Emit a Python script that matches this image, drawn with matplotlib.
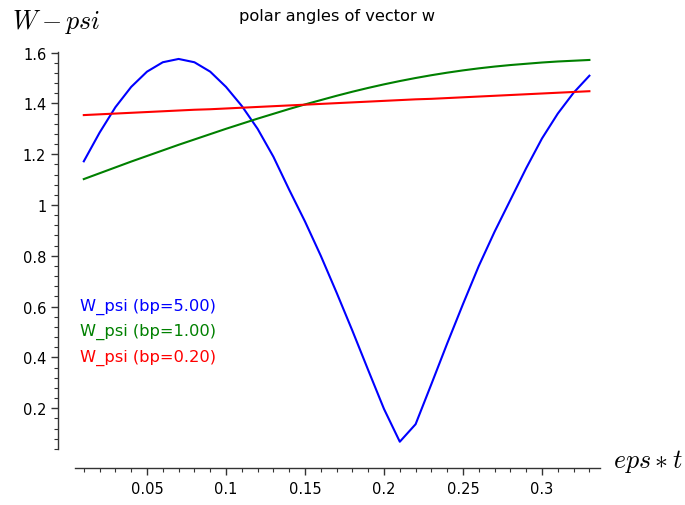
import numpy as np
import matplotlib
matplotlib.use("Agg")
import matplotlib.pyplot as plt
from matplotlib.ticker import FixedLocator, FixedFormatter

plt.rcParams['mathtext.fontset'] = 'cm'

x = [round(0.01 * i, 2) for i in range(1, 34)]

w_psi_bp5 = [1.172, 1.285, 1.385, 1.465, 1.525, 1.562, 1.575, 1.562, 1.525, 1.465,
             1.390, 1.300, 1.190, 1.060, 0.935, 0.800, 0.655, 0.505, 0.350, 0.197,
             0.068, 0.137, 0.295, 0.455, 0.610, 0.760, 0.895, 1.020, 1.145, 1.262,
             1.360, 1.442, 1.509]
w_psi_bp1 = [1.102, 1.125, 1.148, 1.171, 1.193, 1.215, 1.237, 1.258, 1.279, 1.300,
             1.320, 1.340, 1.359, 1.378, 1.396, 1.413, 1.430, 1.446, 1.461, 1.475,
             1.488, 1.500, 1.511, 1.521, 1.530, 1.538, 1.545, 1.551, 1.556, 1.561,
             1.565, 1.568, 1.571]
w_psi_bp02 = [1.354, 1.357, 1.360, 1.363, 1.366, 1.369, 1.372, 1.375, 1.377, 1.380,
              1.383, 1.386, 1.389, 1.392, 1.395, 1.398, 1.401, 1.404, 1.407, 1.410,
              1.413, 1.416, 1.418, 1.421, 1.424, 1.427, 1.430, 1.433, 1.436, 1.439,
              1.442, 1.445, 1.448]

labels = ['W_psi (bp=5.00)', 'W_psi (bp=1.00)', 'W_psi (bp=0.20)']
colors = ['#0000ff', '#008000', '#ff0000']

xticks = [0.05, 0.1, 0.15, 0.2, 0.25, 0.3]
xticklabels = ['0.05', '0.1', '0.15', '0.2', '0.25', '0.3']
yticks = [0.2, 0.4, 0.6, 0.8, 1.0, 1.2, 1.4, 1.6]
yticklabels = ['0.2', '0.4', '0.6', '0.8', '1', '1.2', '1.4', '1.6']

W, H = 685, 506
fig = plt.figure(figsize=(W / 100, H / 100), dpi=100)

# pixel mapping: x=0 -> px 68, 1580 px/unit ; y=0 -> py 460, 254 px/unit
x0, xs = 68.0, 1580.0
y0, ys = 460.0, 254.0
xlim = (-0.012, 0.345)
ylim = (-0.045, 1.62)
left = (x0 + xlim[0] * xs) / W
right = (x0 + xlim[1] * xs) / W
bottom = (H - (y0 - ylim[0] * ys)) / H
top = (H - (y0 - ylim[1] * ys)) / H
ax = fig.add_axes([left, bottom, right - left, top - bottom])
ax.set_xlim(*xlim)
ax.set_ylim(*ylim)

for ser, lab, c in zip([w_psi_bp5, w_psi_bp1, w_psi_bp02], labels, colors):
    ax.plot(x, ser, color=c, lw=1.5, label=lab)

for s in ['top', 'right']:
    ax.spines[s].set_visible(False)
ax.spines['bottom'].set_position(('data', -0.035))
ax.spines['bottom'].set_bounds(0.0045, 0.3365)
ax.spines['left'].set_position(('data', -0.0063))
ax.spines['left'].set_bounds(0.04, 1.603)
for s in ['bottom', 'left']:
    ax.spines[s].set_linewidth(1.0)
    ax.spines[s].set_color('#333333')

ax.xaxis.set_major_locator(FixedLocator(xticks))
ax.xaxis.set_major_formatter(FixedFormatter(xticklabels))
ax.xaxis.set_minor_locator(FixedLocator([0.01 * i for i in range(1, 34)]))
ax.yaxis.set_major_locator(FixedLocator(yticks))
ax.yaxis.set_major_formatter(FixedFormatter(yticklabels))
ax.yaxis.set_minor_locator(FixedLocator([0.04 * i for i in range(1, 41)]))
ax.tick_params(which='major', direction='out', length=5, width=1, colors='#333333',
               labelcolor='black', labelsize=10.5)
ax.tick_params(which='minor', direction='out', length=3, width=0.8, colors='#333333')
ax.tick_params(axis='x', pad=4.5)

fig.text(12 / W, 1 - 22 / H, r'$W-psi$', fontsize=18.7, va='center', ha='left')
fig.text(613 / W, 1 - 462 / H, r'$eps*t$', fontsize=18.7, va='center', ha='left')
fig.text(337 / W, 1 - 16 / H, 'polar angles of vector w', fontsize=11.7, ha='center', va='center')

leg = ax.legend(loc='upper left', bbox_to_anchor=((80 - 6) / W, 1 - 292 / H),
                bbox_transform=fig.transFigure, frameon=False, handlelength=0,
                handletextpad=0, labelcolor='linecolor', fontsize=11.7, labelspacing=0.58,
                borderaxespad=0)
for h in leg.legend_handles:
    h.set_visible(False)

fig.savefig('out.png', dpi=100)
